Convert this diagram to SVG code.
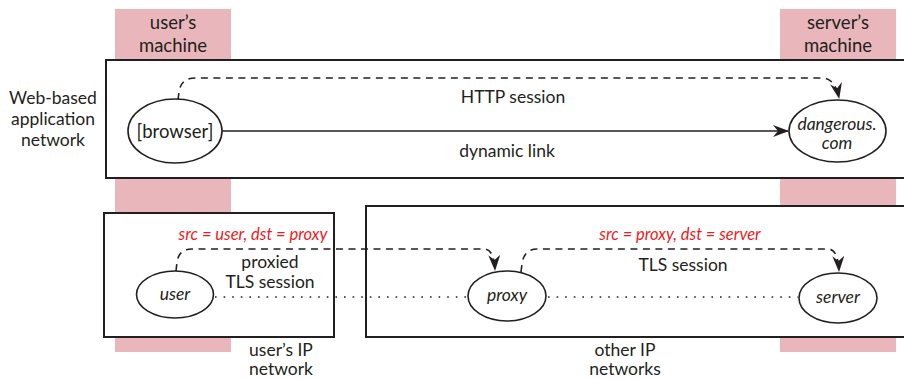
<svg xmlns="http://www.w3.org/2000/svg" width="904" height="379" viewBox="0 0 904 379">
<defs>
<style>
.t{font-family:Lato,"Open Sans","Liberation Sans",sans-serif;font-size:17.5px;fill:#231f20;text-anchor:middle}
.b{font-size:18.5px}
.i{font-style:italic}
.r{fill:#ed1c24;font-size:16.5px}
.box{fill:#fff;stroke:#231f20;stroke-width:2}
.el{fill:#fff;stroke:#231f20;stroke-width:1.6}
.band{fill:#e9b7bb}
.sol{fill:none;stroke:#231f20;stroke-width:1.6}
.dash{fill:none;stroke:#231f20;stroke-width:1.6;stroke-dasharray:7 5.5}
.dot{fill:none;stroke:#231f20;stroke-width:1.6;stroke-dasharray:1.6 7}
</style>
<marker id="ah" viewBox="0 0 16 12" refX="15" refY="6" markerWidth="16" markerHeight="12" markerUnits="userSpaceOnUse" orient="auto">
<path d="M0,0 L16,6 L0,12 L5,6 Z" fill="#231f20"/>
</marker>
</defs>
<g id="bands">
<rect class="band" x="115" y="9" width="116" height="343"/>
<rect class="band" x="780" y="9" width="116" height="343"/>
</g>
<g id="band-labels">
<text class="t b" x="173" y="29">user’s</text>
<text class="t b" x="173" y="52">machine</text>
<text class="t b" x="838" y="29">server’s</text>
<text class="t b" x="838" y="52">machine</text>
</g>
<g id="web-network">
<rect class="box" x="106" y="60" width="800" height="118"/>
<text class="t" x="53" y="104">Web-based</text>
<text class="t" x="53" y="125">application</text>
<text class="t" x="53" y="146">network</text>
</g>
<g id="user-ip-network">
<rect class="box" x="104" y="213" width="230" height="124"/>
<text class="t" x="281" y="356">user’s IP</text>
<text class="t" x="281" y="375">network</text>
</g>
<g id="other-ip-networks">
<rect class="box" x="366" y="206" width="540" height="131"/>
<text class="t" x="625" y="356">other IP</text>
<text class="t" x="625" y="375">networks</text>
</g>
<g id="connectors">
<path class="dash" d="M178,100 L179,92 Q181,78 195,78 L822,78 Q835,78 839,98" marker-end="url(#ah)"/>
<path class="sol" d="M222,131 L788,131" marker-end="url(#ah)"/>
<path class="dash" d="M176,271 L177,262 Q179,249 192,249 L484,249 Q494,249 495,270" marker-end="url(#ah)"/>
<path class="dash" d="M521,272 L522,264 Q524,249 537,249 L828,249 Q838,249 839,271" marker-end="url(#ah)"/>
<path class="dot" d="M215,297 L467,297"/>
<path class="dot" d="M548,297 L798,297"/>
</g>
<g id="connector-labels">
<text class="t" x="513" y="103">HTTP session</text>
<text class="t" x="507" y="157">dynamic link</text>
<text class="t i r" x="253" y="240">src = user, dst = proxy</text>
<text class="t" x="270" y="268">proxied</text>
<text class="t" x="270" y="288">TLS session</text>
<text class="t i r" x="680" y="240">src = proxy, dst = server</text>
<text class="t" x="683" y="271">TLS session</text>
</g>
<g id="browser">
<ellipse class="el" cx="175" cy="131" rx="47" ry="32"/>
<text class="t b" x="175" y="138">[browser]</text>
</g>
<g id="dangerous-com">
<ellipse class="el" cx="837.5" cy="131" rx="48.5" ry="31"/>
<text class="t i" x="837" y="130">dangerous.</text>
<text class="t i" x="837" y="149">com</text>
</g>
<g id="user">
<ellipse class="el" cx="175" cy="294.5" rx="38.5" ry="23.5"/>
<text class="t i" x="175" y="300">user</text>
</g>
<g id="proxy">
<ellipse class="el" cx="507" cy="296" rx="39" ry="25"/>
<text class="t i" x="507" y="301">proxy</text>
</g>
<g id="server">
<ellipse class="el" cx="838" cy="298" rx="39" ry="25"/>
<text class="t i" x="838" y="303">server</text>
</g>
</svg>
